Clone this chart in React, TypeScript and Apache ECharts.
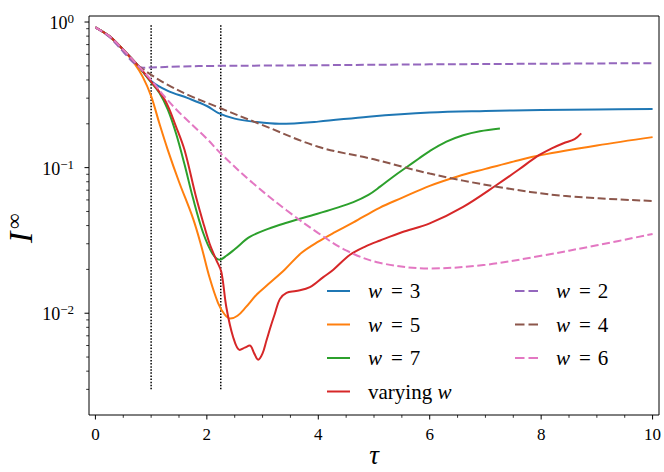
import React, { useEffect, useRef } from "react";
import * as echarts from "echarts";

// Axis ranges
const X_MIN = -0.115;
const X_MAX = 10.115;
const Y_MIN = 0.002;
const Y_MAX = 1.1;

// Series data (tau, I_inf)
const tauW3 = [0, 0.25, 0.5, 0.75, 1.0, 1.3, 1.66, 2.0, 2.2, 2.5, 2.83, 3.3, 4.0, 4.9, 6.0, 7.0, 8.0, 9.0, 10.0];
const iW3 = [0.92, 0.8, 0.645, 0.51, 0.394, 0.337, 0.3, 0.265, 0.238, 0.217, 0.207, 0.2, 0.207, 0.224, 0.239, 0.245, 0.249, 0.251, 0.253];

const tauW5 = [0, 0.25, 0.5, 0.7, 0.85, 1.0, 1.15, 1.3, 1.5, 1.75, 1.9, 2.05, 2.2, 2.32, 2.42, 2.55, 2.7, 2.9, 3.1, 3.4, 3.7, 4.0, 4.3, 4.63, 5.1, 5.5, 6.0, 6.5, 7.0, 7.5, 8.0, 9.0, 10.0];
const iW5 = [0.92, 0.8, 0.645, 0.52, 0.42, 0.31, 0.2, 0.132, 0.08, 0.045, 0.029, 0.0175, 0.0118, 0.0098, 0.0092, 0.0096, 0.011, 0.0135, 0.0158, 0.02, 0.026, 0.031, 0.036, 0.042, 0.053, 0.062, 0.075, 0.087, 0.098, 0.11, 0.122, 0.142, 0.162];

const tauW7 = [0, 0.25, 0.5, 0.75, 1.0, 1.15, 1.3, 1.45, 1.6, 1.75, 1.93, 2.1, 2.23, 2.35, 2.5, 2.77, 3.1, 3.4, 3.97, 4.3, 4.63, 4.9, 5.11, 5.35, 5.59, 5.8, 6.0, 6.3, 6.6, 6.9, 7.26];
const iW7 = [0.92, 0.8, 0.645, 0.51, 0.385, 0.325, 0.25, 0.17, 0.105, 0.062, 0.036, 0.0257, 0.0233, 0.0248, 0.0275, 0.0334, 0.038, 0.0415, 0.048, 0.0525, 0.058, 0.065, 0.074, 0.087, 0.101, 0.115, 0.13, 0.151, 0.167, 0.178, 0.186];

const tauVar = [0, 0.25, 0.5, 0.75, 1.0, 1.25, 1.45, 1.6, 1.81, 1.95, 2.05, 2.17, 2.26, 2.35, 2.47, 2.59, 2.68, 2.77, 2.85, 2.92, 3.0, 3.07, 3.15, 3.22, 3.31, 3.43, 3.6, 3.85, 4.09, 4.27, 4.57, 4.85, 5.11, 5.5, 6.0, 6.6, 7.2, 7.6, 7.92, 8.2, 8.4, 8.6, 8.72];
const iVar = [0.92, 0.8, 0.645, 0.51, 0.39, 0.29, 0.19, 0.132, 0.062, 0.04, 0.03, 0.0232, 0.0192, 0.011, 0.0069, 0.0056, 0.0058, 0.006, 0.0053, 0.0048, 0.0053, 0.0065, 0.0082, 0.0099, 0.0125, 0.0138, 0.0142, 0.0151, 0.0177, 0.0199, 0.0252, 0.0288, 0.0316, 0.036, 0.0414, 0.0538, 0.076, 0.097, 0.119, 0.136, 0.147, 0.157, 0.172];

const tauW2 = [0, 0.25, 0.5, 0.7, 0.85, 1.0, 1.5, 2.2, 3.0, 4.0, 6.0, 8.0, 10.0];
const iW2 = [0.92, 0.79, 0.625, 0.52, 0.485, 0.487, 0.495, 0.5, 0.502, 0.505, 0.512, 0.517, 0.522];

const tauW4 = [0, 0.25, 0.5, 0.75, 1.0, 1.3, 1.66, 2.2, 3.0, 4.0, 5.0, 6.0, 7.2, 8.4, 10.0];
const iW4 = [0.92, 0.8, 0.645, 0.51, 0.434, 0.37, 0.316, 0.26, 0.196, 0.139, 0.114, 0.091, 0.074, 0.064, 0.059];

const tauW6 = [0, 0.25, 0.5, 0.75, 1.0, 1.25, 1.5, 2.0, 2.25, 2.83, 3.43, 4.0, 4.5, 5.1, 6.0, 7.0, 8.0, 9.0, 10.0];
const iW6 = [0.92, 0.8, 0.645, 0.51, 0.4, 0.305, 0.24, 0.158, 0.125, 0.078, 0.051, 0.0355, 0.027, 0.0222, 0.0203, 0.0215, 0.0248, 0.0293, 0.035];

// Vertical dotted markers
const markerTaus = [1.0, 2.25];
const markerRange = [0.003, 0.97];

// Ticks
const xMajorTicks = [0, 2, 4, 6, 8, 10];
const xMinorTicks = [0.5, 1, 1.5, 2.5, 3, 3.5, 4.5, 5, 5.5, 6.5, 7, 7.5, 8.5, 9, 9.5];
const yMajorTicks = [0.01, 0.1, 1];
const yMinorTicks = [0.003, 0.004, 0.005, 0.006, 0.007, 0.008, 0.009, 0.02, 0.03, 0.04, 0.05, 0.06, 0.07, 0.08, 0.09, 0.2, 0.3, 0.4, 0.5, 0.6, 0.7, 0.8, 0.9];

const FONT = "Liberation Serif";

const SOLID_ICON = "path://M0,0H23V2H0Z";
const DASH_ICON = "path://M0,0H9.5V2H0Z M13.5,0H23V2H13.5Z";

const solidSeries = [
  { name: "w = 3", tau: tauW3, val: iW3, color: "#1f77b4" },
  { name: "w = 5", tau: tauW5, val: iW5, color: "#ff7f0e" },
  { name: "w = 7", tau: tauW7, val: iW7, color: "#2ca02c" },
  { name: "varying w", tau: tauVar, val: iVar, color: "#d62728" },
];
const dashedSeries = [
  { name: "w = 2", tau: tauW2, val: iW2, color: "#9467bd" },
  { name: "w = 4", tau: tauW4, val: iW4, color: "#8c564b" },
  { name: "w = 6", tau: tauW6, val: iW6, color: "#e377c2" },
];

function legendFormatter(name: string) {
  const m = name.match(/^w = (.+)$/);
  if (m) return `{i|w}{e|=}{n|${m[1]}}`;
  const idx = name.lastIndexOf("w");
  return `{n|${name.slice(0, idx)}}{i|w}`;
}

const legendRich = {
  n: { fontFamily: FONT, fontSize: 21, lineHeight: 20, color: "#000" },
  i: { fontFamily: FONT, fontSize: 21, lineHeight: 20, fontStyle: "italic", color: "#000" },
  e: { fontFamily: FONT, fontSize: 21, lineHeight: 20, color: "#000", padding: [0, 7, 0, 9] },
};

export default function App() {
  const ref = useRef<HTMLDivElement>(null);
  useEffect(() => {
    if (!ref.current) return;
    const chart = echarts.init(ref.current, null, { renderer: "svg" });

    const tickData: any[] = [];
    xMajorTicks.forEach((v) => tickData.push([v, Y_MIN, 0]));
    xMinorTicks.forEach((v) => tickData.push([v, Y_MIN, 1]));
    yMajorTicks.forEach((v) => tickData.push([X_MIN, v, 2]));
    yMinorTicks.forEach((v) => tickData.push([X_MIN, v, 3]));

    const series: any[] = [];
    markerTaus.forEach((t) => {
      series.push({
        type: "line",
        data: [
          [t, markerRange[0]],
          [t, markerRange[1]],
        ],
        symbol: "none",
        silent: true,
        lineStyle: { color: "#000", width: 1.5, type: [1.5, 1.6] },
        z: 1,
      });
    });
    solidSeries.forEach((s) => {
      series.push({
        name: s.name,
        type: "line",
        data: s.tau.map((t, i) => [t, s.val[i]]),
        symbol: "none",
        showSymbol: false,
        smooth: 0.35,
        lineStyle: { color: s.color, width: 2 },
        itemStyle: { color: s.color },
        z: 2,
      });
    });
    dashedSeries.forEach((s) => {
      series.push({
        name: s.name,
        type: "line",
        data: s.tau.map((t, i) => [t, s.val[i]]),
        symbol: "none",
        showSymbol: false,
        smooth: 0.35,
        lineStyle: { color: s.color, width: 2, type: [8, 3.5] },
        itemStyle: { color: s.color },
        z: 3,
      });
    });
    series.push({
      type: "custom",
      silent: true,
      clip: false,
      encode: { x: 0, y: 1 },
      data: tickData,
      z: 5,
      renderItem: (params: any, api: any) => {
        const kind = api.value(2);
        const p = api.coord([api.value(0), api.value(1)]);
        let shape;
        if (kind < 2) {
          const len = kind === 0 ? 4.5 : 2.8;
          shape = { x1: p[0], y1: p[1], x2: p[0], y2: p[1] + len };
        } else {
          const len = kind === 2 ? 4.5 : 2.8;
          shape = { x1: p[0] - len, y1: p[1], x2: p[0], y2: p[1] };
        }
        return {
          type: "line",
          shape,
          style: { stroke: "#000", lineWidth: kind % 2 === 0 ? 1 : 0.8 },
        };
      },
    });

    const legendBase = {
      orient: "vertical",
      top: 280.5,
      padding: 0,
      itemWidth: 23,
      itemHeight: 2,
      itemGap: 12.5,
      selectedMode: false,
      formatter: legendFormatter,
      textStyle: { rich: legendRich, padding: [0, 0, 0, 13] },
    };

    chart.setOption({
      animation: false,
      textStyle: { fontFamily: FONT },
      grid: {
        left: 89,
        top: 16,
        right: 5,
        bottom: 57,
        outerBoundsMode: "none",
        containLabel: false,
        show: true,
        borderColor: "#000",
        borderWidth: 1,
        backgroundColor: "transparent",
      },
      graphic: [
        {
          type: "group",
          x: 32,
          y: 243,
          rotation: Math.PI / 2,
          silent: true,
          children: [
            {
              type: "text",
              x: 0,
              y: -12,
              style: {
                text: "I",
                fontSize: 34,
                fontStyle: "italic",
                fontFamily: FONT,
                fill: "#000",
                align: "left",
                textAlign: "left",
                verticalAlign: "middle",
                textVerticalAlign: "middle",
              },
            },
            {
              type: "text",
              x: 14,
              y: -19,
              style: {
                text: "∞",
                fontSize: 22,
                fontFamily: FONT,
                fill: "#000",
                align: "left",
                textAlign: "left",
                verticalAlign: "middle",
                textVerticalAlign: "middle",
              },
            },
          ],
        },
      ],
      legend: [
        { ...legendBase, left: 327, data: solidSeries.map((s) => ({ name: s.name, icon: SOLID_ICON })) },
        { ...legendBase, left: 515, data: dashedSeries.map((s) => ({ name: s.name, icon: DASH_ICON })) },
      ],
      xAxis: {
        type: "value",
        min: X_MIN,
        max: X_MAX,
        splitNumber: 5,
        axisLine: { show: false },
        axisTick: { show: false },
        splitLine: { show: false },
        axisLabel: {
          showMinLabel: false,
          showMaxLabel: false,
          margin: 11,
          fontSize: 17,
          color: "#000",
          fontFamily: FONT,
        },
        name: "τ",
        nameLocation: "middle",
        nameGap: 26,
        nameMoveOverlap: false,
        nameTextStyle: { fontSize: 27, lineHeight: 27, fontStyle: "italic", fontFamily: FONT, color: "#000" },
      },
      yAxis: {
        type: "log",
        logBase: 10,
        min: Y_MIN,
        max: Y_MAX,
        axisLine: { show: false },
        axisTick: { show: false },
        splitLine: { show: false },
        axisLabel: {
          showMinLabel: false,
          showMaxLabel: false,
          margin: 15,
          color: "#000",
          fontFamily: FONT,
          formatter: (v: number) => {
            const e = Math.round(Math.log10(v));
            const es = e < 0 ? "\u2212" + -e : String(e);
            return `{b|10}{s|${es}}`;
          },
          rich: {
            b: { fontSize: 18, lineHeight: 20, verticalAlign: "bottom", fontFamily: FONT, color: "#000" },
            s: { fontSize: 13, lineHeight: 13, verticalAlign: "top", fontFamily: FONT, color: "#000" },
          },
        },
      },
      series,
    });
    return () => chart.dispose();
  }, []);
  return (
    <div
      ref={ref}
      style={{ position: "absolute", left: 0, top: 0, width: 664, height: 472, background: "#fff" }}
    />
  );
}
